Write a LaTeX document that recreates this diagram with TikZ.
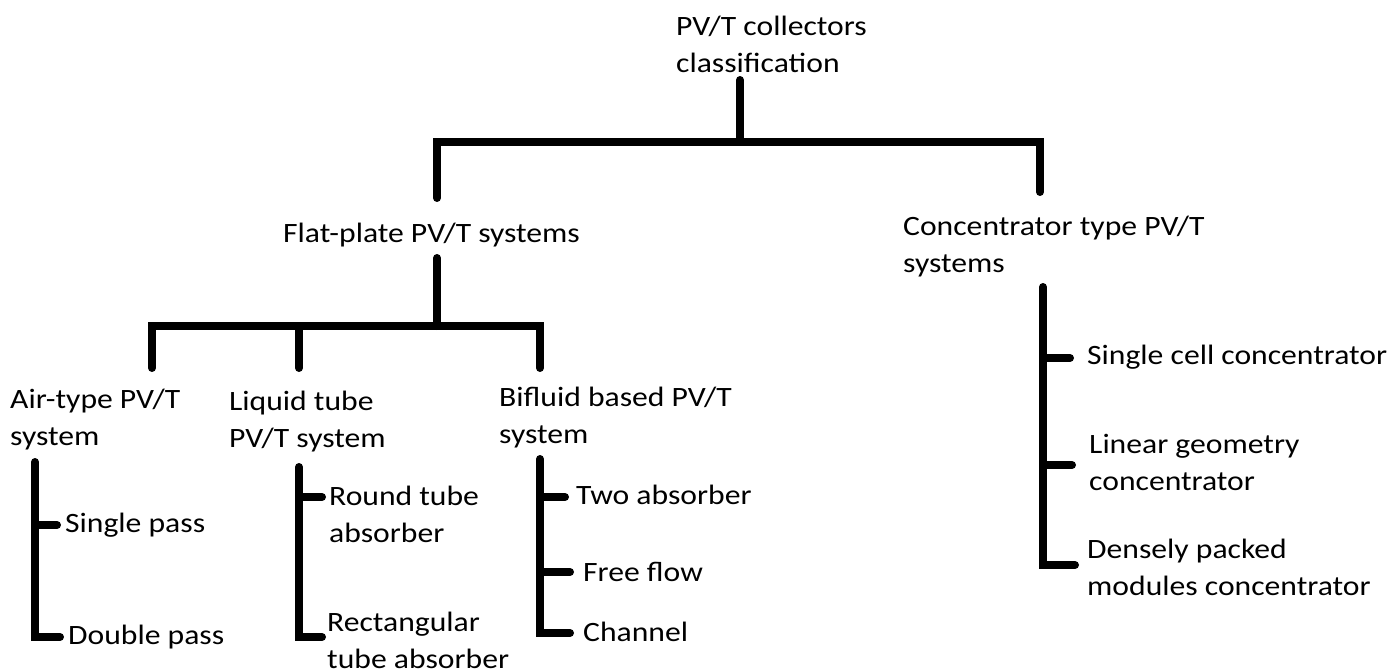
\documentclass[tikz,border=0pt]{standalone}
\usepackage{fontspec}
\setmainfont{Carlito}[FakeStretch=1.13]
\begin{document}
\begin{tikzpicture}[x=1pt,y=-1pt,
  lbl/.style={inner sep=0pt,anchor=west,align=left,font=\fontsize{28}{37}\selectfont},
  bar/.style={line width=8pt,line cap=round,line join=miter}]
\useasboundingbox (0,0) rectangle (1400,671);
% texts
\node[lbl] (root) at (676,44) {PV/T collectors\\classification};
\node[lbl] (flat) at (283,235) {Flat-plate PV/T systems};
\node[lbl] (conc) at (903,247) {Concentrator type PV/T\\systems};
\node[lbl] (air) at (10,420) {Air-type PV/T\\system};
\node[lbl] (liq) at (229,422) {Liquid tube\\PV/T system};
\node[lbl] (bif) at (499,418) {Bifluid based PV/T\\system};
\node[lbl] (sp) at (65,525) {Single pass};
\node[lbl] (dp) at (68,637) {Double pass};
\node[lbl] (rt) at (329,514) {Round tube\\absorber};
\node[lbl] (rect) at (327,640) {Rectangular\\tube absorber};
\node[lbl] (two) at (576,495) {Two absorber};
\node[lbl] (ff) at (583,572) {Free flow};
\node[lbl] (ch) at (583,632) {Channel};
\node[lbl] (sc) at (1087,357) {Single cell concentrator};
\node[lbl] (lg) at (1089,462) {Linear geometry\\concentrator};
\node[lbl] (dm) at (1087,567) {Densely packed\\modules concentrator};
% level 1
\coordinate (r0) at (740,80);
\coordinate (r1) at (740,142);
\draw[bar] (r0) -- (r1);
\draw[bar] (437,198) -- (437,142) -- (1040,142) -- (1040,192);
% level 2
\draw[bar] (437,258) -- (437,326);
\draw[bar] (152,368) -- (152,326) -- (540,326) -- (540,368);
\draw[bar] (299,326) -- (299,368);
% air bracket
\draw[bar] (35,462) -- (35,637) -- (60,637);
\draw[bar] (35,525) -- (57,525);
% liquid bracket
\draw[bar] (299,467) -- (299,637) -- (322,637);
\draw[bar] (299,497) -- (322,497);
% bifluid bracket
\draw[bar] (540,459) -- (540,633) -- (570,633);
\draw[bar] (540,497) -- (565,497);
\draw[bar] (540,572) -- (570,572);
% concentrator bracket
\draw[bar] (1043,287) -- (1043,565) -- (1075,565);
\draw[bar] (1043,358) -- (1070,358);
\draw[bar] (1043,465) -- (1072,465);
\end{tikzpicture}
\end{document}
